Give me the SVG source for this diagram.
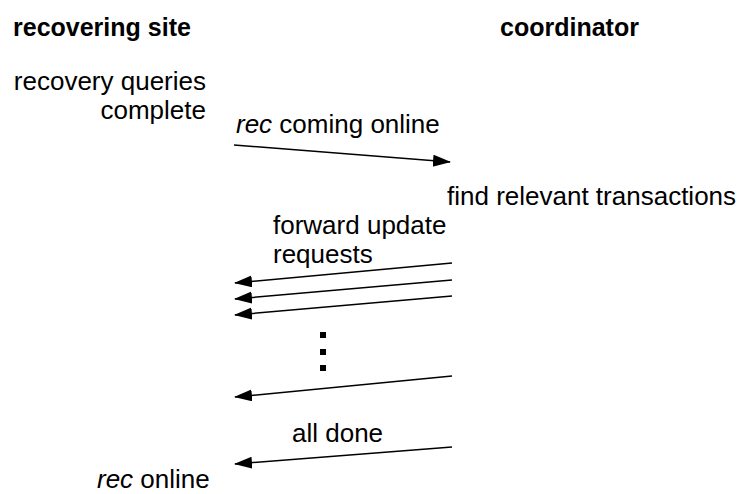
<svg xmlns="http://www.w3.org/2000/svg" width="739" height="494" viewBox="0 0 739 494">
  <style>
    text { font-family: "Liberation Sans", Arial, Helvetica, sans-serif; font-size: 26px; fill: #000; }
    .head { font-weight: bold; font-size: 25px; }
    .it { font-style: italic; }
    .msg { stroke: #000; stroke-width: 1.5; fill: none; marker-end: url(#arrow); }
  </style>
  <defs>
    <marker id="arrow" markerUnits="userSpaceOnUse" markerWidth="20" markerHeight="14" refX="17" refY="6" orient="auto">
      <path d="M0,0 L18,6 L0,12 z" fill="#000"/>
    </marker>
  </defs>

  <rect width="739" height="494" fill="#fff"/>

  <!-- column headings -->
  <g id="recovering-site">
    <text class="head" x="13" y="36">recovering site</text>
  </g>
  <g id="coordinator">
    <text class="head" x="500" y="36">coordinator</text>
  </g>

  <!-- events on the recovering site side -->
  <g id="recovery-queries-complete">
    <text x="206" y="90" text-anchor="end">recovery queries</text>
    <text x="206" y="119" text-anchor="end">complete</text>
  </g>
  <g id="rec-online">
    <text x="97" y="488"><tspan class="it">rec</tspan> online</text>
  </g>

  <!-- events on the coordinator side -->
  <g id="find-relevant-transactions">
    <text x="447" y="205">find relevant transactions</text>
  </g>

  <!-- message labels -->
  <g id="label-coming-online">
    <text x="236" y="133"><tspan class="it">rec</tspan> coming online</text>
  </g>
  <g id="label-forward-update">
    <text x="273" y="234">forward update</text>
    <text x="273" y="263">requests</text>
  </g>
  <g id="label-all-done">
    <text x="292" y="442">all done</text>
  </g>

  <!-- continuation dots -->
  <g id="ellipsis" fill="#000">
    <rect x="320" y="332" width="6" height="6"/>
    <rect x="320" y="349" width="6" height="6"/>
    <rect x="320" y="365" width="6" height="6"/>
  </g>

  <!-- messages -->
  <g id="connectors">
    <line class="msg" x1="234" y1="145" x2="450" y2="162"/>
    <line class="msg" x1="452" y1="263" x2="235" y2="283"/>
    <line class="msg" x1="452" y1="280" x2="235" y2="299"/>
    <line class="msg" x1="452" y1="296" x2="235" y2="315"/>
    <line class="msg" x1="452" y1="376" x2="235" y2="397"/>
    <line class="msg" x1="452" y1="447" x2="235" y2="464"/>
  </g>
</svg>
